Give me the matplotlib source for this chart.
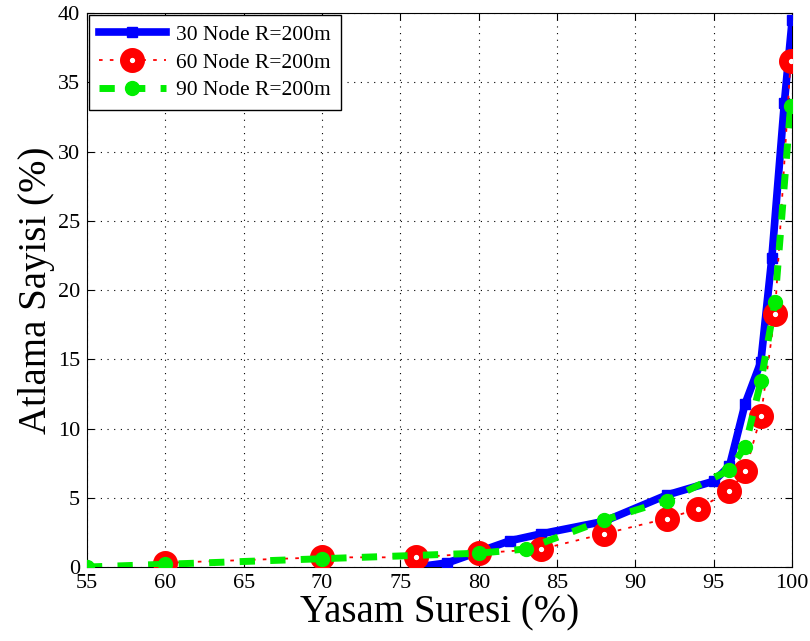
import numpy as np
import matplotlib
matplotlib.use('Agg')
import matplotlib.pyplot as plt

plt.rcParams['font.family'] = ['Liberation Serif', 'DejaVu Serif']
plt.rcParams['mathtext.fontset'] = 'stix'

# 30 Node R=200m
x30 = [76, 78, 82, 84, 88, 92, 95, 96, 97, 98, 98.7, 99.5, 100]
y30 = [0.0, 0.3, 1.9, 2.4, 3.3, 5.2, 6.2, 7.3, 11.8, 14.8, 22.3, 33.5, 39.5]

# 60 Node R=200m
x60 = [60, 70, 76, 80, 84, 88, 92, 94, 96, 97, 98, 98.9, 99.9]
y60 = [0.3, 0.7, 0.7, 1.0, 1.3, 2.4, 3.5, 4.2, 5.5, 6.9, 10.9, 18.3, 36.5]

# 90 Node R=200m
x90 = [55, 60, 70, 80, 83, 88, 92, 96, 97, 98, 98.9, 99.9]
y90 = [0.0, 0.2, 0.6, 1.0, 1.3, 3.4, 4.8, 7.0, 8.7, 13.4, 19.1, 33.3]

fig = plt.figure(figsize=(8.1, 6.41), dpi=100)
ax = fig.add_axes([0.1074, 0.1154, 0.8706, 0.8643])

ax.plot(x30, y30, color='blue', linewidth=5.5, marker='s', markersize=7,
        label='30 Node R=200m', zorder=3)
ax.plot(x60, y60, color='red', linewidth=1.3, linestyle=(0, (2, 4)),
        marker='o', markersize=11, markerfacecolor='white',
        markeredgecolor='red', markeredgewidth=7,
        label='60 Node R=200m', zorder=4)
ax.plot(x90, y90, color='#00ee00', linewidth=5, linestyle=(0, (2.2, 2.2)),
        marker='o', markersize=10, markerfacecolor='#00ee00',
        markeredgecolor='#00ee00', label='90 Node R=200m', zorder=5)

ax.set_xlim(55, 100)
ax.set_ylim(0, 40)
ax.set_xticks(np.arange(55, 101, 5))
ax.set_yticks(np.arange(0, 41, 5))
ax.tick_params(direction='in', top=True, right=True, labelsize=16, length=5)
ax.tick_params(axis='x', pad=5)
ax.tick_params(axis='y', pad=5)
ax.grid(True, linestyle=(0, (1, 5)), color='black', linewidth=0.8)

ax.set_xlabel('Yasam Suresi (%)', fontsize=28, labelpad=1)
ax.set_ylabel('Atlama Sayisi (%)', fontsize=28, labelpad=2)

leg = ax.legend(loc='upper left', fontsize=15.5, fancybox=False, framealpha=1,
                edgecolor='black', borderaxespad=0.1, handlelength=3.1,
                borderpad=0.45, labelspacing=0.35, handletextpad=0.5)
leg.get_frame().set_linewidth(1.0)

fig.savefig('out.png', dpi=100)
